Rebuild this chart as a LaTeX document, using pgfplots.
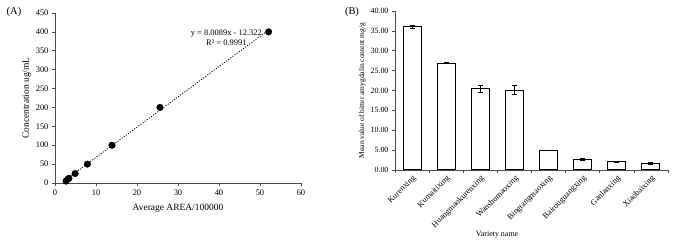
\documentclass[border=0pt]{standalone}
\usepackage{pgfplots}
\pgfplotsset{compat=1.18}
\usepackage{pgfplotstable}
\usepackage{fontspec}
\setmainfont{Liberation Serif}
\pgfplotstableread{
x y
2.7 5
3.1 10
3.4 12.5
4.9 25
7.9 50
13.9 100
25.6 200
52.1 400
}\calib
\pgfplotstableread{
i y e
0 36.0 0.3
1 26.9 0.15
2 20.5 0.9
3 20.1 1.1
4 4.95 0.1
5 2.65 0.2
6 2.05 0.15
7 1.7 0.15
}\amyg
\begin{document}
\begin{tikzpicture}
\path (0bp,0bp) rectangle (673bp,244bp);
\node[font=\fontsize{10.5}{12}\selectfont] at (14bp,232bp) {(A)};
\node[font=\fontsize{10.5}{12}\selectfont] at (352bp,232bp) {(B)};
\begin{axis}[
  at={(55bp,61bp)}, anchor=south west,
  scale only axis, width=246bp, height=170bp,
  xmin=0, xmax=60, ymin=0, ymax=450,
  xtick={0,10,...,60}, ytick={0,50,...,450},
  axis lines*=left,
  axis line style={black!70, line width=0.8pt},
  tick style={black!70, line width=0.6pt},
  tick align=outside, major tick length=3bp,
  /pgf/number format/assume math mode=true,
  ticklabel style={font=\fontsize{8.5}{10}\selectfont},
  xlabel={Average AREA/100000},
  ylabel={Concentration ug/mL},
  label style={font=\fontsize{9.5}{11}\selectfont},
  xlabel style={yshift=-2bp},
  ylabel style={yshift=-2bp},
  clip=false,
]
\addplot[black, dash pattern=on 1bp off 1.6bp, line width=0.9pt] coordinates {(2.5,7.7) (52.1,405)};
\addplot[only marks, mark=*, mark size=3.3bp, black] table[x=x,y=y] {\calib};
\node[font=\fontsize{8.5}{10}\selectfont, align=center] at (axis cs:41.8,385) {y = 8.0089x - 12.322\\R² = 0.9991};
\end{axis}
\begin{axis}[
  at={(395bp,74bp)}, anchor=south west,
  scale only axis, width=273bp, height=159bp,
  xmin=-0.5, xmax=7.5, ymin=0, ymax=40,
  ytick={0,5,...,40},
  xtick={0,...,7},
  xticklabels={Kurenxing,Kumaitixing,Huangmaokurenxing,Wanshumaoxing,Bingtangmaoxing,Bairouguangxing,Ganlanxing,Xiaobaixing},
  minor xtick={-0.5,0.5,...,7.5},
  axis lines*=left,
  axis line style={black!70, line width=0.8pt},
  major x tick style={draw=none},
  minor tick style={black!70, line width=0.6pt},
  y tick style={black!70, line width=0.6pt},
  tick align=outside, major tick length=3bp, minor tick length=3bp,
  /pgf/number format/assume math mode=true,
  yticklabel={\pgfmathprintnumber[fixed,fixed zerofill,precision=2]{\tick}},
  yticklabel style={font=\fontsize{8}{9}\selectfont},
  xticklabel style={font=\fontsize{8.3}{9}\selectfont, rotate=45, anchor=north east, inner sep=1bp},
  xlabel={Variety name},
  ylabel={Mean value of bitter amygdalin content mg/g},
  xlabel style={font=\fontsize{8}{9}\selectfont, at={(0.374,0)}, anchor=north, yshift=-58bp},
  ylabel style={font=\fontsize{7.5}{8}\selectfont, yshift=-2bp},
]
\addplot[ybar, bar width=18bp, fill=white, draw=black, line width=1.1pt,
  error bars/.cd, y dir=both, y explicit,
  error bar style={black, line width=0.6pt},
  error mark options={rotate=90, mark size=2.5bp, black, line width=0.6pt}]
  table[x=i, y=y, y error=e] {\amyg};
\end{axis}
\end{tikzpicture}
\end{document}
